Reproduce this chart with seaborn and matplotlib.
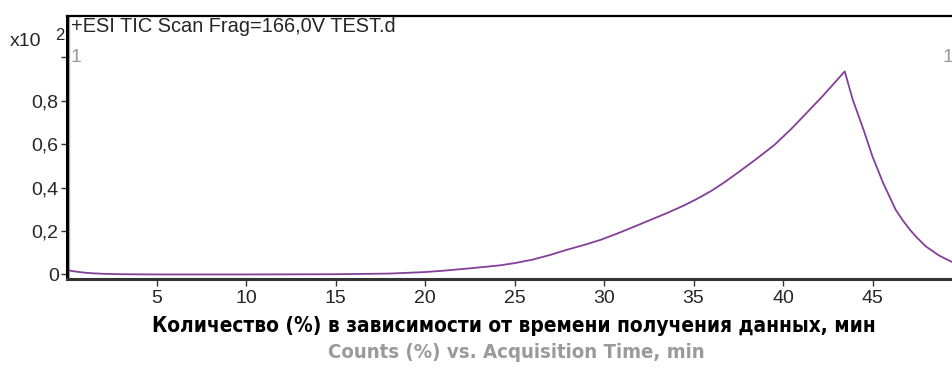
import matplotlib
matplotlib.use("Agg")
import matplotlib.pyplot as plt
import seaborn as sns
import pandas as pd

# Total ion chromatogram, counts in units of 10^2
time_min = [0.0, 0.5, 1.0, 1.5, 2.0, 3.0, 5.0, 10.0, 15.0, 18.0, 20.0, 21.0,
            22.5, 24.2, 25.0, 26.0, 27.0, 27.9, 28.9, 29.8, 30.7, 31.6, 32.5,
            33.5, 34.4, 35.2, 36.0, 36.65, 37.5, 38.5, 39.5, 40.4, 41.3, 42.2,
            42.8, 43.45, 43.7, 43.9, 44.2, 44.5, 45.0, 45.6, 46.3, 46.7, 47.1,
            47.5, 48.0, 48.7, 49.4, 50.0]
counts = [0.020, 0.013, 0.008, 0.005, 0.003, 0.001, 0.0, 0.0, 0.001, 0.004,
          0.011, 0.017, 0.028, 0.042, 0.052, 0.068, 0.090, 0.113, 0.136, 0.159,
          0.187, 0.217, 0.248, 0.282, 0.315, 0.348, 0.385, 0.420, 0.470, 0.531,
          0.595, 0.665, 0.742, 0.820, 0.875, 0.935, 0.862, 0.804, 0.735, 0.666,
          0.543, 0.420, 0.297, 0.248, 0.205, 0.168, 0.128, 0.088, 0.059, 0.042]

y_ticks = [0.0, 0.2, 0.4, 0.6, 0.8, 1.0]
y_tick_labels = ["0", "0,2", "0,4", "0,6", "0,8", ""]
x_ticks = [5, 10, 15, 20, 25, 30, 35, 40, 45]

trace_title = "+ESI TIC Scan Frag=166,0V TEST.d"
xlabel_ru = "Количество (%) в зависимости от времени получения данных, мин"
xlabel_en = "Counts (%) vs. Acquisition Time, min"

sns.set_style("white")
plt.rcParams["font.family"] = ["Liberation Sans", "DejaVu Sans"]

df = pd.DataFrame({"time": time_min, "counts": counts})

fig = plt.figure(figsize=(9.52, 3.76), dpi=100)
W, H = 952, 376
left_px, right_px, top_px, bottom_px = 67, 962, 16, 279
ax = fig.add_axes([left_px / W, 1 - bottom_px / H,
                   (right_px - left_px) / W, (bottom_px - top_px) / H])

sns.lineplot(data=df, x="time", y="counts", ax=ax, color="#843f99",
             linewidth=1.3, estimator=None)

ax.set_xlim(0, 50)
ax.set_ylim(-0.021, 1.19)
ax.set_xticks(x_ticks)
ax.set_xticklabels([str(t) for t in x_ticks], fontsize=14)
ax.set_yticks(y_ticks)
ax.set_yticklabels(y_tick_labels, fontsize=14)
ax.set_xlabel("")
ax.set_ylabel("")

ax.tick_params(axis="x", direction="out", length=5, width=1, color="#333333",
               pad=3, bottom=True)
ax.tick_params(axis="y", direction="out", length=4, width=1, color="#333333",
               pad=2, left=True)
ax.get_yticklines()[-2].set_color("#999999")

for side in ("left", "top"):
    ax.spines[side].set_color("black")
ax.spines["left"].set_linewidth(2.2)
ax.spines["top"].set_linewidth(1.6)
ax.spines["bottom"].set_color("#333333")
ax.spines["bottom"].set_linewidth(2.2)
ax.spines["right"].set_visible(False)

# thin grey guide just inside the y axis
ax.axvline(0.12, color="#b0b0b0", linewidth=1.0, zorder=1)

# grey "1" markers at the top of the y range
ax.text(0.2, 1.0, "1", color="#999999", fontsize=14, ha="left", va="center")
fig.text(942 / W, 1 - 58 / H, "1", color="#999999", fontsize=14,
         ha="left", va="center")

# scale factor label
fig.text(10 / W, 1 - 42 / H, "x10", fontsize=14, ha="left", va="center")
fig.text(55 / W, 1 - 36 / H, "2", fontsize=12, ha="left", va="center")

ax.text(4 / (right_px - left_px), 1 - 11 / (bottom_px - top_px), trace_title,
        transform=ax.transAxes, fontsize=14.4, ha="left", va="center")

renderer = fig.canvas.get_renderer()


def fitted_text(x_px, y_px, s, width_px, **kw):
    t = fig.text(x_px / W, 1 - y_px / H, s, ha="center", va="center", **kw)
    w = t.get_window_extent(renderer).width
    t.set_fontsize(t.get_fontsize() * width_px / w)
    return t


fitted_text(514, 326, xlabel_ru, 728, fontsize=14, fontweight="bold",
            fontstretch="condensed", family=["DejaVu Sans"], color="black")
fitted_text(516, 353, xlabel_en, 380, fontsize=14, fontweight="semibold",
            fontstretch="condensed", family=["DejaVu Sans"], color="#9a9a9a")

fig.savefig("out.png", dpi=100)
